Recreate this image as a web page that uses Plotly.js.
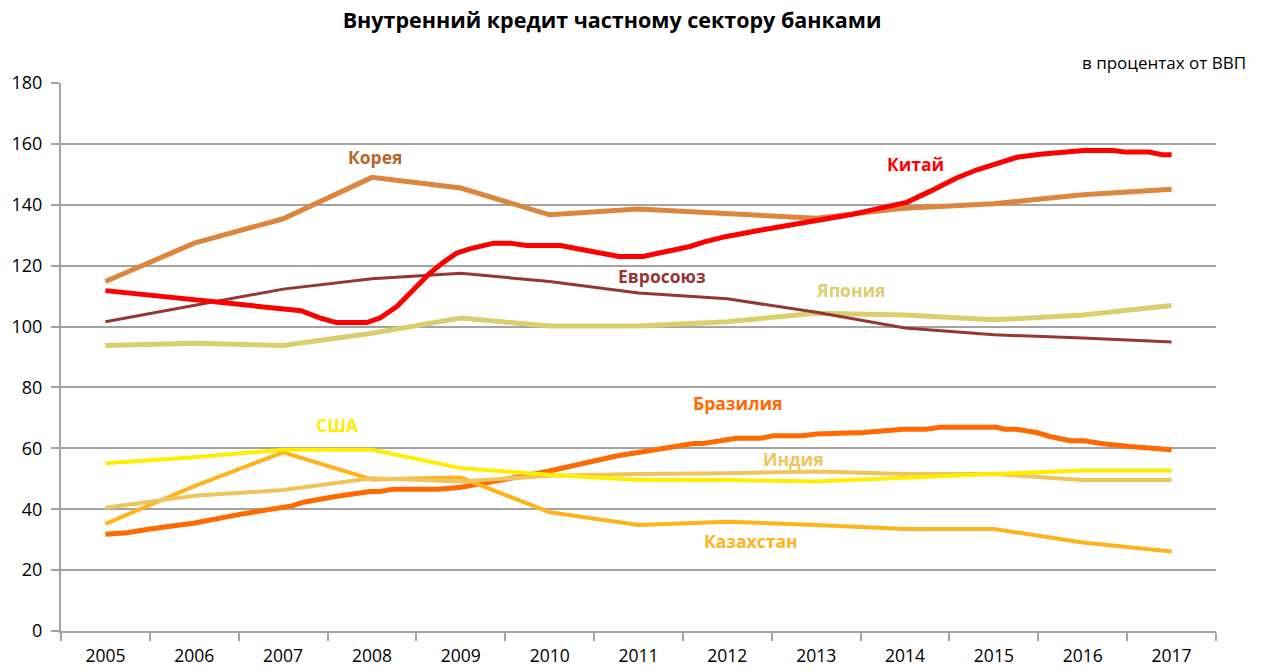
<!DOCTYPE html>
<html>
<head>
<meta charset="utf-8">
<script src="https://cdn.plot.ly/plotly-3.0.1.min.js"></script>
<style>html,body{margin:0;padding:0;background:#fff;}#chart{width:1262px;height:670px;}</style>
</head>
<body>
<div id="chart"></div>
<script>
const years = [2005, 2006, 2007, 2008, 2009, 2010, 2011, 2012, 2013, 2014, 2015, 2016, 2017];

const korea = [114.8, 127.4, 135.4, 149.0, 145.5, 136.7, 138.6, 137.3, 135.6, 138.9, 140.3, 143.3, 145.1];
const eu = [101.6, 106.9, 112.3, 115.7, 117.5, 114.8, 111.0, 109.1, 104.7, 99.5, 97.3, 96.2, 94.9];
const japan = [93.8, 94.5, 93.8, 97.8, 102.8, 100.2, 100.2, 101.6, 104.4, 103.8, 102.2, 103.8, 106.9];
const usa = [55.1, 57.1, 59.5, 59.5, 53.5, 51.3, 49.6, 49.6, 49.1, 50.5, 51.6, 52.7, 52.7];
const india = [40.5, 44.4, 46.3, 50.2, 49.1, 51.0, 51.6, 51.8, 52.4, 51.6, 51.6, 49.6, 49.6];
const kazakhstan = [35.2, 47.6, 58.7, 49.8, 50.4, 39.0, 34.8, 35.9, 34.8, 33.5, 33.5, 29.1, 26.1];

const chinaX = [2005, 2007, 2007.2, 2007.42, 2007.6, 2007.94, 2008.09, 2008.28, 2008.47, 2008.65, 2008.8, 2008.95, 2009.1, 2009.37, 2009.55, 2009.74, 2010.12, 2010.4, 2010.68, 2010.78, 2011.05, 2011.2, 2011.58, 2011.75, 2011.99, 2012.4, 2012.97, 2013.38, 2013.72, 2014.02, 2014.28, 2014.58, 2014.81, 2015.03, 2015.26, 2015.52, 2015.78, 2016.01, 2016.34, 2016.49, 2016.75, 2016.9, 2017];
const chinaY = [111.8, 105.8, 105.2, 102.8, 101.3, 101.3, 102.8, 106.6, 112.1, 117.5, 121.0, 124.1, 125.5, 127.4, 127.4, 126.6, 126.6, 125.2, 123.6, 123.0, 123.0, 123.9, 126.3, 127.9, 129.6, 131.8, 134.5, 136.7, 138.9, 140.8, 144.4, 148.8, 151.5, 153.7, 155.6, 156.6, 157.3, 157.8, 157.8, 157.3, 157.3, 156.4, 156.4];

const brazilX = [2005, 2005.24, 2005.5, 2005.76, 2005.99, 2006.51, 2007.0, 2007.1, 2007.23, 2007.57, 2007.98, 2008.09, 2008.24, 2008.54, 2008.75, 2009.0, 2009.4, 2009.63, 2009.97, 2010.49, 2010.75, 2011.05, 2011.62, 2011.73, 2012.1, 2012.37, 2012.52, 2012.85, 2013.0, 2013.53, 2013.98, 2014.24, 2014.39, 2015.03, 2015.12, 2015.24, 2015.48, 2015.63, 2015.86, 2016.01, 2016.23, 2016.53, 2017];
const brazilY = [31.8, 32.3, 33.5, 34.3, 35.4, 38.3, 40.5, 41.1, 42.3, 44.1, 45.8, 45.8, 46.6, 46.6, 46.6, 47.2, 49.1, 50.5, 52.4, 55.6, 57.5, 58.9, 61.6, 61.6, 63.3, 63.3, 64.1, 64.1, 64.7, 65.2, 66.3, 66.3, 66.9, 66.9, 66.3, 66.3, 65.2, 63.9, 62.5, 62.5, 61.5, 60.6, 59.5];

const seriesNames = ['Корея', 'Китай', 'Евросоюз', 'Япония', 'США', 'Бразилия', 'Индия', 'Казахстан'];
const title = 'Внутренний кредит частному сектору банками';
const unitNote = 'в процентах от ВВП';

const FONT = 'Open Sans, Noto Sans, DejaVu Sans, sans-serif';
const GRID = '#A3A3A3';

function line(name, x, y, color, width) {
  return {type: 'scatter', mode: 'lines', name: name, x: x, y: y,
    line: {color: color, width: width, shape: 'linear'}, hoverinfo: 'x+y', showlegend: false};
}

const traces = [
  line(seriesNames[5], brazilX, brazilY, '#FF6A00', 5),
  line(seriesNames[7], years, kazakhstan, '#FFB31A', 4),
  line(seriesNames[6], years, india, '#F0C45C', 4),
  line(seriesNames[4], years, usa, '#FFEE00', 4),
  line(seriesNames[3], years, japan, '#D9CF6E', 5),
  line(seriesNames[2], years, eu, '#963634', 3),
  line(seriesNames[0], years, korea, '#DC853C', 5),
  line(seriesNames[1], chinaX, chinaY, '#FF0000', 5)
];

function label(text, x, y, color) {
  return {text: '<b>' + text + '</b>', x: x, y: y, xref: 'x', yref: 'y', showarrow: false,
    xanchor: 'center', yanchor: 'middle', font: {family: FONT, size: 17.5, color: color}};
}

const layout = {
  width: 1262, height: 670,
  margin: {l: 61, r: 46, t: 83, b: 39},
  paper_bgcolor: '#ffffff', plot_bgcolor: '#ffffff',
  font: {family: FONT, size: 18, color: '#000000'},
  title: {text: '<b>' + title + '</b>', x: 0.485, xref: 'container', xanchor: 'center',
    y: 0.97, yref: 'container', yanchor: 'middle',
    font: {family: FONT, size: 21.5, color: '#000000'}},
  xaxis: {
    range: [2004.5, 2017.5], tickmode: 'linear', tick0: 2005, dtick: 1, ticks: '',
    showgrid: false, zeroline: false, showline: true, linecolor: GRID, linewidth: 2,
    tickfont: {family: FONT, size: 17.5, color: '#000000'}, ticklabelstandoff: 8,
    minor: {tickmode: 'linear', tick0: 2004.5, dtick: 1, ticks: 'outside', ticklen: 8, tickwidth: 2, tickcolor: GRID, showgrid: false},
    fixedrange: true
  },
  yaxis: {
    range: [0, 180], tickmode: 'linear', tick0: 0, dtick: 20,
    ticks: 'outside', ticklen: 8, tickwidth: 2, tickcolor: GRID,
    showgrid: true, gridcolor: GRID, gridwidth: 2, zeroline: false,
    showline: true, linecolor: GRID, linewidth: 2,
    tickfont: {family: FONT, size: 18, color: '#000000'}, ticklabelstandoff: 5,
    fixedrange: true
  },
  annotations: [
    {text: unitNote, xref: 'paper', yref: 'paper', x: 1.0277, y: 1.038, xanchor: 'right', yanchor: 'middle',
      showarrow: false, font: {family: FONT, size: 17, color: '#000000'}},
    label(seriesNames[0], 2008.03, 155.8, '#B8652A'),
    label(seriesNames[1], 2014.12, 153.5, '#FF0000'),
    label(seriesNames[2], 2011.27, 116.7, '#963634'),
    label(seriesNames[3], 2013.39, 112.1, '#D9CF6E'),
    label(seriesNames[4], 2007.61, 67.7, '#FFEE00'),
    label(seriesNames[5], 2012.11, 74.9, '#FF6A00'),
    label(seriesNames[6], 2012.74, 56.5, '#F0C45C'),
    label(seriesNames[7], 2012.27, 29.6, '#FFB31A')
  ],
  showlegend: false
};

Plotly.newPlot('chart', traces, layout, {displayModeBar: false, staticPlot: true});
</script>
</body>
</html>
